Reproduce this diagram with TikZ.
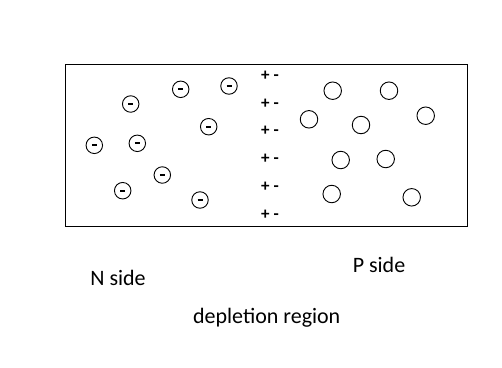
\documentclass[tikz,border=0pt]{standalone}
\usepackage{fontspec}
\setmainfont{Carlito}
\begin{document}
\begin{tikzpicture}[x=1pt,y=-1pt,
  nion/.style={circle,draw,line width=0.9pt,minimum size=16.5pt,inner sep=0pt},
  pion/.style={circle,draw,line width=0.9pt,minimum size=17.5pt,inner sep=0pt},
  charge/.style={font=\fontsize{17}{17}\selectfont\bfseries,inner sep=0pt},
  lbl/.style={font=\fontsize{22}{22}\selectfont,anchor=base,inner sep=0pt}]
\useasboundingbox (0,0) rectangle (502,367);
\draw[line width=1pt] (65.5,64.5) rectangle (467,226.5);
% N side ions
\foreach \n/\x/\y in {n1/130.7/104, n2/180.7/89.3, n3/229/86, n4/208.7/126.7, n5/94.3/145.3, n6/137.3/143.3, n7/162.3/175, n8/122.7/190.7, n9/200/200}
  \node[nion] (\n) at (\x,\y) {\rule[-0.9pt]{5pt}{1.8pt}};
% P side holes
\foreach \n/\x/\y in {p1/332.7/90.7, p2/389/90.7, p3/309/119.3, p4/361/125, p5/425.7/115.7, p6/340.7/160, p7/385.7/159, p8/331.7/194, p9/411.7/197.3}
  \node[pion] (\n) at (\x,\y) {};
% depletion charges
\foreach \n/\y in {c1/75.7, c2/103.3, c3/131, c4/159, c5/186.7, c6/215}
  \node[charge] (\n) at (270,\y) {+ -};
% labels
\node[lbl] (nside) at (118,285) {N side};
\node[lbl] (pside) at (379,272.3) {P side};
\node[lbl] (dep) at (266.7,323.3) {depletion region};
\end{tikzpicture}
\end{document}
